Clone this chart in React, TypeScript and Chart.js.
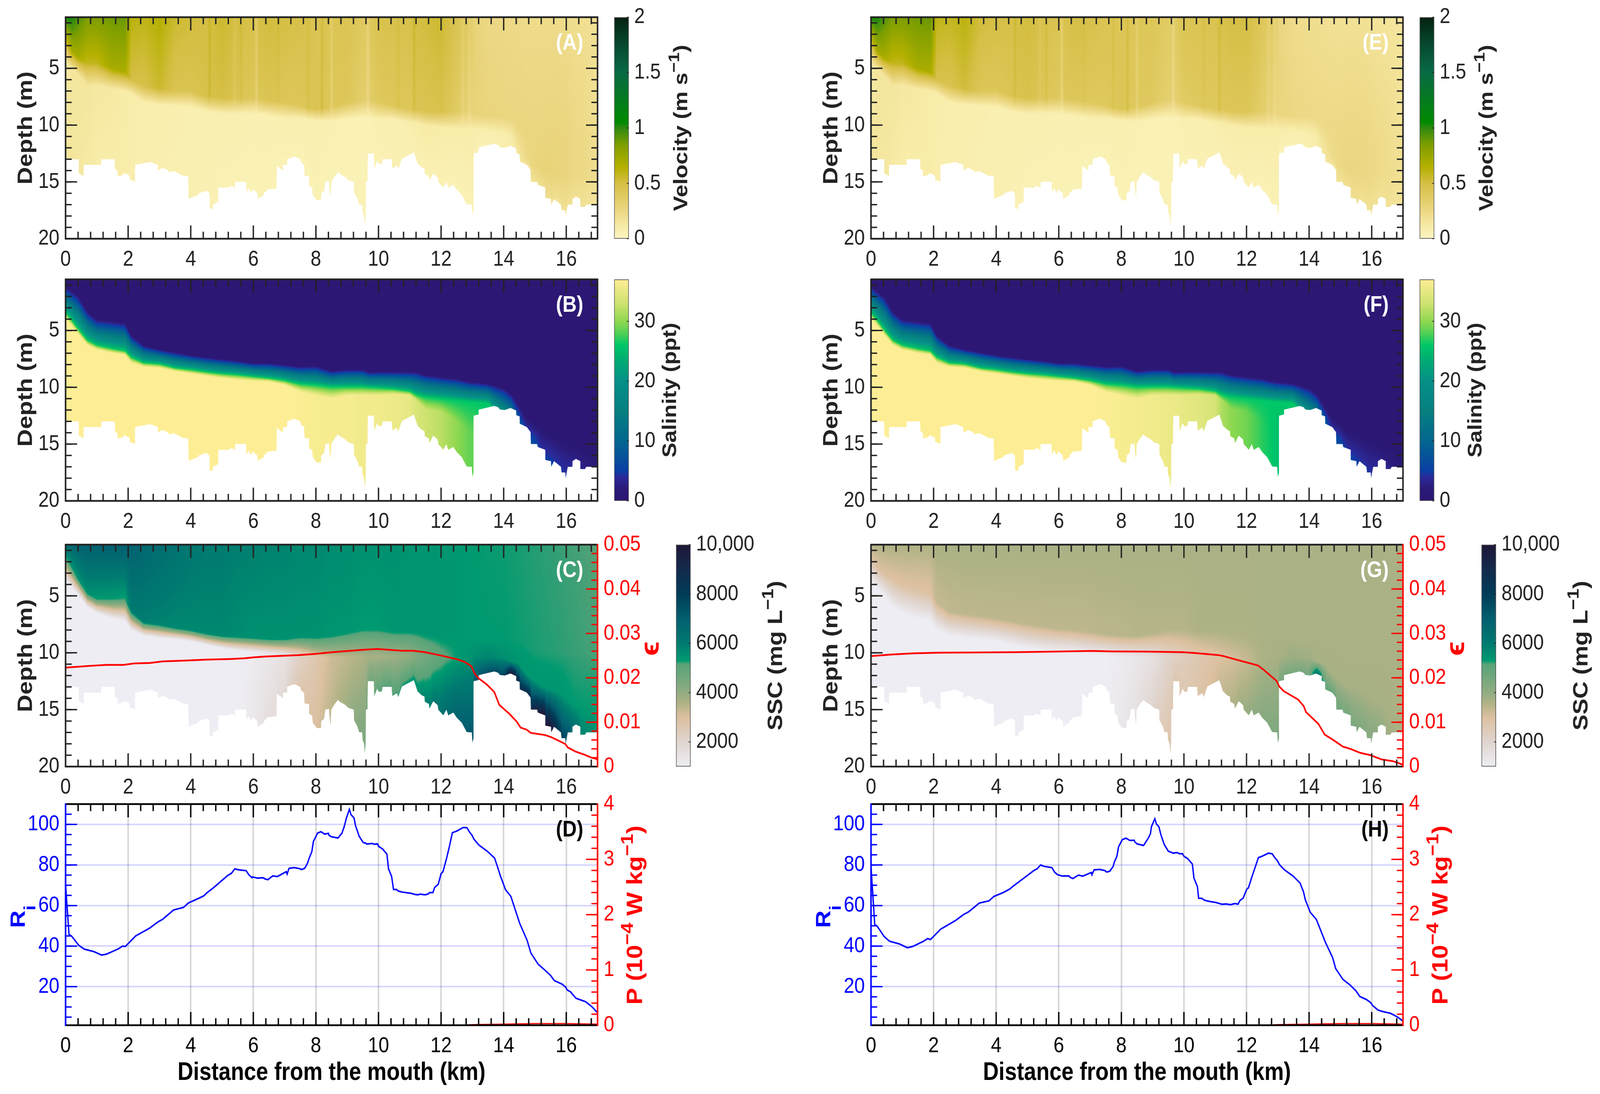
import { useEffect, useRef } from 'react';
import Chart from 'chart.js/auto';

const FONT = '"Liberation Sans", Arial, sans-serif';

// tick labels
const distanceTicks = [0, 2, 4, 6, 8, 10, 12, 14, 16];
const depthTicks = [5, 10, 15, 20];
const epsilonTicks = [0, 0.01, 0.02, 0.03, 0.04, 0.05];
const richardsonTicks = [20, 40, 60, 80, 100];
const productionTicks = [0, 1, 2, 3, 4];
const velocityBarTicks = [0, 0.5, 1, 1.5, 2];
const salinityBarTicks = [0, 10, 20, 30];
const sscBarTicks = [2000, 4000, 6000, 8000, 10000];

// river bed
const bedKm = [
  0, 0.42, 0.42, 0.58, 0.58, 0.96, 1.14, 1.14, 1.57, 1.57, 1.66, 1.66, 1.82, 1.88, 2.05, 2.05, 2.22, 2.22, 2.7, 2.95,
  2.95, 3.1, 3.29, 3.29, 3.46, 3.76, 3.92, 3.93, 4.25, 4.25, 4.5, 4.6, 4.6, 4.7, 4.71, 4.88, 4.88, 5.21, 5.3, 5.41,
  5.41, 5.42, 5.77, 5.78, 5.85, 5.94, 5.98, 6.13, 6.14, 6.34, 6.34, 6.46, 6.74, 6.75, 6.95, 6.95, 7.08, 7.08, 7.31, 7.5,
  7.52, 7.62, 7.64, 7.78, 7.78, 7.88, 7.9, 8.02, 8.16, 8.17, 8.26, 8.3, 8.42, 8.43, 8.47, 8.49, 8.6, 8.71, 8.76, 8.92,
  9.04, 9.21, 9.22, 9.32, 9.38, 9.48, 9.49, 9.54, 9.56, 9.59, 9.6, 9.65, 9.66, 9.85, 9.86, 9.96, 10.01, 10.11, 10.13, 10.42,
  10.44, 10.59, 10.63, 10.75, 11.03, 11.13, 11.25, 11.39, 11.47, 11.48, 11.61, 11.63, 11.75, 11.89, 11.91, 12.04, 12.07, 12.17, 12.23, 12.39,
  12.5, 12.66, 12.82, 12.98, 13.0, 13.04, 13.04, 13.19, 13.2, 13.7, 13.82, 13.88, 14.03, 14.22, 14.4, 14.4, 14.51, 14.51, 14.74, 14.86,
  14.87, 15.07, 15.09, 15.33, 15.33, 15.51, 15.52, 15.61, 15.83, 15.85, 15.97, 15.98, 16.05, 16.2, 16.2, 16.31, 16.45, 16.45, 16.6, 16.64,
  16.97, 17,
];
const bedDepth = [
  13, 13, 14.24, 14.5, 13.5, 13.5, 13.5, 13, 13, 13.83, 14.03, 14.5, 14.4, 14.2, 14.46, 14.8, 15, 13.5, 13.24, 13.5,
  14, 13.76, 14, 14.16, 14.03, 14.46, 14.5, 16.48, 16.12, 16, 15.78, 16, 17.3, 17.38, 17, 16.75, 15.5, 15.5, 15.34, 15.5,
  15.93, 15, 15, 15.93, 15.55, 16, 15.63, 16, 16.48, 16.15, 16, 15.67, 15.58, 13.58, 14, 13.5, 13.5, 13, 12.76, 13,
  13.28, 13.5, 14.46, 14.5, 15.36, 15.52, 16.15, 16.6, 16.63, 16, 15.8, 15, 14.93, 15.48, 16.38, 15, 14.5, 14.13, 14.3, 14.54,
  14.84, 15, 15.93, 16.45, 16.97, 17, 17.65, 18, 18.85, 18, 15, 14.95, 12.5, 12.5, 13.85, 13.15, 13.43, 13.4, 13, 13,
  13.8, 13.55, 13.9, 12.95, 12.55, 12.4, 13.4, 13.75, 13.85, 14.3, 14.5, 14.9, 14.25, 14.6, 15, 15.4, 15.5, 15, 15.5, 15.25,
  15.7, 16.15, 16.97, 17, 17.9, 17.5, 12.5, 12.4, 11.97, 11.64, 11.75, 11.95, 12, 11.82, 12.05, 12.45, 12.56, 13.2, 13.5, 13.95,
  15, 15, 15.25, 15.5, 16.4, 16.5, 17, 16.5, 17, 17.5, 17.5, 18, 17, 17, 16.5, 16.3, 16.5, 17.2, 17.2, 17,
  17, 17,
];

// along-section stations the field profiles were read at
const stationKm = [
  0, 0.2, 0.4, 0.7, 1, 1.5, 1.9,
  2.1, 2.5, 3, 3.5, 4, 4.5, 5, 5.5, 6, 6.5, 7,
  7.5, 8, 8.5, 9, 9.5, 9.7, 10, 10.5, 11, 11.2, 11.5, 12, 12.5, 12.95, 13.05,
  13.5, 14,
  14.25, 14.5, 14.75, 15, 15.25, 15.5, 15.75, 16, 16.25, 16.5, 16.75, 17,
];

// narrow vertical streaks seen in the velocity sections
const velStreakKm = [4.6, 5.4, 5.6, 6.1, 6.8, 7.75, 8.2, 8.5, 9.66, 10.63, 11.14, 12.7, 12.9];
const velStreakShift = [0.06, -0.05, 0.05, -0.12, 0.03, 0.05, 0.08, -0.1, -0.1, 0.04, 0.07, -0.06, -0.06];

// velocity profile: surface, top of shear layer, bottom of shear layer, bed
const shearTop = [
  3, 3.5, 4, 4.5, 4.5, 5, 5.3,
  6, 6.5, 6.8, 7, 7, 7.4, 7.6, 7.6, 7.6, 7.8, 8,
  8.3, 8.6, 8.4, 8, 7.8, 7.8, 8, 8.3, 8.6, 8.6, 8.8, 8.8, 8.8, 8.8, 9,
  9.2, 9.2,
  9.5, 10, 10.5, 11, 11, 11.5, 11.5, 11.5, 11.5, 11.5, 11.5, 11.5,
];
const shearBottom = [
  4.5, 5, 5.5, 6.5, 6.5, 6.8, 7,
  7.2, 8, 8.2, 8.3, 8.4, 8.8, 9, 9, 9, 9.2, 9.4,
  9.4, 9.6, 9.7, 9.5, 9.4, 9.4, 9.5, 9.5, 9.8, 9.8, 10, 10.2, 10.3, 10.3, 10.3,
  10.5, 10.8,
  11, 12, 13, 13.5, 14, 14, 14.5, 14.5, 14.5, 14.5, 14.5, 14.5,
];
const velSurfA = [
  1.05, 1.05, 0.95, 0.85, 0.85, 0.88, 0.9,
  0.62, 0.6, 0.65, 0.55, 0.52, 0.5, 0.55, 0.5, 0.48, 0.52, 0.5,
  0.48, 0.45, 0.45, 0.45, 0.4, 0.4, 0.47, 0.47, 0.48, 0.5, 0.52, 0.55, 0.45, 0.38, 0.3,
  0.25, 0.24,
  0.24, 0.23, 0.22, 0.22, 0.22, 0.22, 0.22, 0.22, 0.2, 0.2, 0.18, 0.18,
];
const velMidA = [
  0.45, 0.7, 0.7, 0.6, 0.6, 0.7, 0.68,
  0.5, 0.48, 0.55, 0.45, 0.45, 0.48, 0.5, 0.45, 0.42, 0.45, 0.42,
  0.42, 0.45, 0.42, 0.42, 0.35, 0.35, 0.4, 0.42, 0.42, 0.45, 0.45, 0.47, 0.38, 0.3, 0.3,
  0.28, 0.27,
  0.26, 0.27, 0.27, 0.27, 0.27, 0.28, 0.28, 0.27, 0.25, 0.24, 0.22, 0.2,
];
const velLowA = [
  0.12, 0.15, 0.15, 0.15, 0.13, 0.12, 0.1,
  0.1, 0.08, 0.08, 0.08, 0.07, 0.07, 0.07, 0.07, 0.06, 0.06, 0.07,
  0.07, 0.07, 0.06, 0.05, 0.05, 0.05, 0.07, 0.07, 0.08, 0.1, 0.12, 0.1, 0.1, 0.1, 0.1,
  0.08, 0.08,
  0.1, 0.18, 0.25, 0.28, 0.3, 0.3, 0.28, 0.27, 0.25, 0.24, 0.22, 0.2,
];
const velBed = [
  0.15, 0.15, 0.14, 0.12, 0.1, 0.1, 0.1,
  0.08, 0.08, 0.08, 0.07, 0.07, 0.06, 0.05, 0.05, 0.05, 0.05, 0.05,
  0.05, 0.05, 0.05, 0.05, 0.05, 0.05, 0.05, 0.06, 0.06, 0.06, 0.06, 0.06, 0.05, 0.05, 0.05,
  0.05, 0.08,
  0.1, 0.15, 0.15, 0.18, 0.2, 0.2, 0.18, 0.18, 0.18, 0.18, 0.16, 0.16,
];
const velSurfE = [
  1.05, 1.05, 0.95, 0.85, 0.85, 0.88, 0.9,
  0.6, 0.58, 0.62, 0.52, 0.5, 0.48, 0.52, 0.48, 0.45, 0.5, 0.48,
  0.45, 0.43, 0.43, 0.42, 0.38, 0.38, 0.45, 0.45, 0.46, 0.47, 0.5, 0.5, 0.42, 0.35, 0.27,
  0.22, 0.2,
  0.2, 0.19, 0.18, 0.18, 0.18, 0.18, 0.18, 0.17, 0.16, 0.16, 0.15, 0.15,
];
const velMidE = [
  0.45, 0.7, 0.7, 0.6, 0.6, 0.7, 0.68,
  0.48, 0.46, 0.52, 0.43, 0.42, 0.45, 0.47, 0.43, 0.4, 0.42, 0.4,
  0.4, 0.43, 0.4, 0.4, 0.33, 0.33, 0.38, 0.4, 0.4, 0.42, 0.42, 0.43, 0.35, 0.28, 0.27,
  0.25, 0.24,
  0.23, 0.24, 0.24, 0.24, 0.25, 0.25, 0.25, 0.24, 0.22, 0.21, 0.19, 0.18,
];
const velLowE = [
  0.12, 0.15, 0.15, 0.15, 0.13, 0.12, 0.1,
  0.1, 0.08, 0.08, 0.08, 0.07, 0.07, 0.07, 0.07, 0.06, 0.06, 0.07,
  0.07, 0.07, 0.06, 0.05, 0.05, 0.05, 0.07, 0.07, 0.08, 0.09, 0.1, 0.1, 0.1, 0.1, 0.1,
  0.08, 0.08,
  0.1, 0.16, 0.22, 0.25, 0.26, 0.26, 0.25, 0.24, 0.22, 0.21, 0.2, 0.18,
];

// salinity profile: fresh layer down to haloTop, then through haloGreen to the salt layer
const haloTop = [
  1.1, 1.5, 1.9, 3.3, 4, 4.15, 4.3,
  5.4, 6.3, 6.65, 6.9, 7.15, 7.35, 7.5, 7.65, 7.85, 7.85, 8,
  8.15, 8.1, 8.55, 8.4, 8.4, 8.65, 8.6, 8.6, 8.6, 8.6, 8.85, 9.05, 9.2, 9.5, 9.5,
  9.65, 10,
  10.55, 11.55, 12.55, 13.1, 13.55, 13.85, 14.15, 14.45, 14.75, 15.05, 15.4, 15.8,
];
const haloGreen = [
  3.43, 4.1, 4.86, 5.86, 6.3, 6.6, 6.8,
  7.35, 7.85, 7.95, 8.3, 8.45, 8.65, 8.8, 8.9, 9.05, 9.2, 9.4,
  9.7, 9.8, 9.95, 9.95, 9.95, 10, 10.05, 10.15, 10.35, 10.65, 10.85, 11, 11.15, 11.3, 11.3,
  11.4, 13,
  13.5, 16.5, 21.3, 21.7, 29, 30.4, 34, 38, 35, 40, 45, 50,
];
const haloYellow = [
  3.93, 4.6, 5.3, 6.3, 6.7, 7, 7.15,
  7.85, 8.2, 8.3, 8.6, 8.8, 9, 9.2, 9.35, 9.45, 9.5, 9.8,
  10.4, 10.7, 11, 10.7, 10.7, 10.7, 10.7, 10.6, 10.7, 11.1, 11.9, 12.15, 13, 14, 14,
  14.5, 14,
  14.5, 17.5, 22.3, 22.7, 30, 31.4, 35, 39, 36, 41, 46, 51,
];
const salBottomB = [
  37, 37, 37, 37, 37, 37, 37,
  37, 37, 37, 37, 37, 37, 37, 37, 37, 37, 37,
  36.8, 36.5, 36.5, 36.3, 36, 36, 36, 35.5, 35, 34, 33, 32, 30, 28.5, 28.5,
  26, 26,
  26, 26, 26, 26, 26, 26, 26, 26, 26, 26, 26, 26,
];
const salBottomF = [
  37, 37, 37, 37, 37, 37, 37,
  37, 37, 37, 37, 37, 37, 37, 37, 37, 37, 37,
  36.8, 36.5, 36.2, 36, 35.5, 35.5, 35, 34.5, 33.5, 31.5, 30, 29, 27, 25.5, 25.5,
  26, 26,
  26, 26, 26, 26, 26, 26, 26, 26, 26, 26, 26, 26,
];

// suspended sediment profile: surface, top and bottom of the lutocline, bed
const lutoTop = [
  1.5, 2.5, 3.5, 4.8, 5.3, 5.3, 5.3,
  6.3, 7.3, 7.5, 7.8, 8, 8.3, 8.5, 8.6, 8.7, 8.8, 8.8,
  8.6, 8.6, 8.5, 8.2, 8, 8, 8, 8.1, 8.1, 8.1, 8.3, 8.5, 8.6, 8.8, 8.8,
  8.8, 8.9,
  9, 9, 9.5, 10, 10, 10, 10, 10, 10, 10, 10, 10,
];
const lutoTopG = [
  1.5, 2.5, 3, 3.5, 4, 4.5, 4.8,
  5.6, 6.4, 6.6, 6.8, 7, 7.2, 7.5, 7.7, 7.9, 8, 8.2,
  8.4, 8.5, 8.5, 8.3, 8, 8, 8, 8.1, 8.1, 8.1, 8.3, 8.5, 8.6, 8.8, 8.8,
  8.8, 8.9,
  9, 9, 9.5, 10, 10, 10, 10, 10, 10, 10, 10, 10,
];
const lutoBottom = [
  3.7, 4.3, 4.9, 6, 6.5, 7, 7.2,
  8, 8.5, 8.7, 8.8, 9, 9.3, 9.6, 9.8, 9.9, 10, 10.1,
  10.2, 10.4, 10.4, 10.4, 10.3, 10.3, 10.3, 10.3, 10.3, 10.3, 10.4, 10.5, 10.5, 10.5, 10.5,
  10.5, 10.5,
  10.8, 11, 12, 12.5, 13, 13.2, 13.5, 14, 14.5, 15, 15, 15,
];
const sscSurfC = [
  6600, 6800, 6900, 7000, 7000, 7000, 7000,
  6900, 6700, 6500, 6300, 6100, 6000, 6000, 5900, 5900, 5800, 5800,
  5700, 5700, 5600, 5600, 5500, 5500, 5500, 5500, 5400, 5400, 5400, 5400, 5350, 5300, 5300,
  5290, 5280,
  5270, 5260, 5250, 5240, 5230, 5220, 5210, 5200, 5190, 5180, 5170, 5150,
];
const sscMidC = [
  5300, 5400, 5500, 5500, 5300, 5300, 5200,
  6000, 5900, 5800, 5700, 5700, 5700, 5700, 5600, 5500, 5500, 5500,
  5500, 5500, 5400, 5400, 5300, 5300, 5300, 5400, 5400, 5400, 5400, 5400, 5350, 5320, 5300,
  5300, 5300,
  5290, 5280, 5270, 5260, 5250, 5240, 5230, 5220, 5210, 5200, 5190, 5180,
];
const sscLowC = [
  1000, 1000, 1000, 1000, 1000, 1000, 1000,
  1000, 1000, 1000, 1000, 1000, 1000, 1000, 1000, 1100, 1300, 1500,
  2200, 2700, 3200, 3400, 3600, 3700, 3700, 3800, 4000, 4300, 4600, 5000, 5300, 5500, 5600,
  5800, 5600,
  5500, 5400, 5400, 5400, 5400, 5400, 5400, 5350, 5300, 5300, 5300, 5300,
];
const sscBedC = [
  1000, 1000, 1000, 1000, 1000, 1000, 1000,
  1000, 1000, 1000, 1000, 1000, 1000, 1000, 1000, 1200, 1600, 1800,
  2700, 3000, 3400, 3800, 4400, 4500, 5000, 5200, 5400, 5500, 5800, 6300, 6800, 7200, 7200,
  7500, 7800,
  10000, 8800, 8800, 9200, 10000, 10000, 8200, 7600, 6300, 5800, 5600, 5400,
];
const sscSurfG = [
  3500, 3550, 3600, 3600, 3600, 3600, 3600,
  3650, 3650, 3650, 3650, 3650, 3650, 3650, 3650, 3650, 3650, 3650,
  3650, 3650, 3650, 3650, 3650, 3650, 3650, 3650, 3650, 3650, 3650, 3650, 3650, 3650, 3650,
  3650, 3650,
  3650, 3650, 3650, 3650, 3650, 3650, 3650, 3650, 3650, 3650, 3650, 3650,
];
const sscMidG = [
  3000, 3000, 2950, 2950, 2950, 2900, 2900,
  3300, 3350, 3400, 3400, 3400, 3400, 3400, 3400, 3400, 3400, 3400,
  3450, 3450, 3500, 3500, 3500, 3500, 3500, 3600, 3600, 3600, 3600, 3600, 3650, 3650, 3650,
  3650, 3650,
  3650, 3650, 3650, 3650, 3650, 3650, 3650, 3650, 3650, 3650, 3650, 3650,
];
const sscLowG = [
  1000, 1000, 1000, 1000, 1000, 1000, 1000,
  1000, 1000, 1000, 1000, 1000, 1000, 1000, 1000, 1000, 1000, 1000,
  1000, 1100, 1300, 1500, 2100, 2200, 2400, 2700, 2900, 3000, 3100, 3300, 3600, 3700, 3700,
  3900, 3800,
  3700, 3700, 3700, 3700, 3700, 3700, 3700, 3700, 3700, 3700, 3650, 3650,
];
const sscBedG = [
  1000, 1000, 1000, 1000, 1000, 1000, 1000,
  1000, 1000, 1000, 1000, 1000, 1000, 1000, 1000, 1000, 1000, 1000,
  1000, 1200, 1500, 2000, 2700, 2700, 2600, 2800, 3100, 3300, 3500, 3900, 4200, 4400, 4500,
  4500, 4600,
  6500, 5000, 4800, 4600, 4500, 4400, 4300, 4200, 4000, 3800, 3700, 3700,
];

// red epsilon curves
const epsilonKmC = [
  0, 0.8, 1.3, 1.85, 2.2, 2.7, 3.1, 3.8, 4.5, 5.25, 5.73, 6, 6.4, 7, 7.45, 7.95, 8.43, 8.76, 9.56, 9.96,
  10.27, 10.75, 11.1, 11.47, 11.95, 12.5, 12.75, 12.97, 13.06, 13.18, 13.46, 13.7, 13.86, 14.18, 14.42, 14.54, 14.74, 14.86, 15.33, 15.53,
  15.85, 15.97, 16.05, 16.29, 16.61, 16.77, 16.97, 17,
];
const epsilonC = [
  0.0223, 0.0227, 0.0229, 0.0229, 0.02325, 0.02336, 0.0237, 0.02387, 0.0241, 0.02424, 0.0244, 0.0246, 0.0248, 0.02497, 0.0251, 0.02537, 0.0257, 0.0259, 0.02635, 0.0265,
  0.02635, 0.0261, 0.0261, 0.0258, 0.0251, 0.0242, 0.0236, 0.0226, 0.0211, 0.02, 0.0185, 0.0168, 0.0139, 0.0119, 0.0101, 0.0088, 0.0083, 0.0076, 0.0071, 0.0066,
  0.0055, 0.0051, 0.0043, 0.0034, 0.0026, 0.0021, 0.0017, 0.0015,
];
const epsilonKmG = [
  0, 0.64, 1.33, 2.16, 3.2, 4.58, 5.62, 7.08, 7.7, 8.86, 9.97, 10.33, 10.8, 11.12, 11.26, 11.72, 12.04, 12.36, 12.55, 12.73,
  12.96, 13.05, 13.19, 13.65, 13.83, 13.9, 14.3, 14.5, 14.75, 15.08, 15.35, 15.63, 15.95, 16.32, 16.69, 17,
];
const epsilonG = [
  0.0249, 0.02525, 0.0255, 0.02566, 0.0257, 0.02577, 0.02588, 0.02606, 0.02595, 0.0259, 0.02577, 0.0256, 0.0253, 0.0251, 0.0249, 0.024, 0.0234, 0.0228, 0.0218, 0.0207,
  0.0193, 0.018, 0.017, 0.0151, 0.0136, 0.0123, 0.0096, 0.0072, 0.0061, 0.0045, 0.0039, 0.0031, 0.0026, 0.0016, 0.0012, 0.0004,
];

// Richardson number curves
const richardsonKmD = [
  0, 0.11, 0.19, 0.42, 0.6, 0.9, 1.15, 1.3, 1.68, 1.82, 1.91, 2.24, 2.69, 2.96, 3.1, 3.45, 3.77, 3.93, 4.25, 4.42,
  4.52, 4.73, 5.18, 5.3, 5.41, 5.53, 5.77, 5.85, 5.96, 5.98, 6.13, 6.32, 6.36, 6.46, 6.62, 6.77, 7.05, 7.08, 7.14, 7.31,
  7.5, 7.53, 7.64, 7.73, 7.78, 7.87, 7.92, 8, 8.05, 8.16, 8.28, 8.4, 8.42, 8.5, 8.71, 8.76, 8.83, 8.91, 8.97, 9.07,
  9.12, 9.22, 9.26, 9.38, 9.51, 9.58, 9.63, 9.8, 9.87, 9.97, 10, 10.13, 10.27, 10.32, 10.42, 10.48, 10.57, 10.64, 10.77, 11.05,
  11.15, 11.25, 11.34, 11.48, 11.59, 11.63, 11.74, 11.79, 11.91, 12, 12.06, 12.17, 12.26, 12.36, 12.5, 12.71, 12.83, 12.9, 12.99, 13.05,
  13.21, 13.49, 13.71, 13.82, 13.89, 14.06, 14.23, 14.51, 14.75, 14.87, 15.1, 15.3, 15.49, 15.62, 15.86, 15.98, 16.03, 16.14, 16.31, 16.62,
  16.83, 17,
];
const richardsonD = [
  70.5, 45.7, 45, 40.4, 38.5, 37.3, 35.6, 36, 38.6, 40, 39.8, 45, 48.9, 52, 53.2, 57.8, 59.1, 61.3, 63.5, 64.8,
  66.3, 68.8, 74.8, 75.9, 78.1, 77.6, 77.2, 75.3, 73.7, 74.1, 73.5, 73.7, 73.2, 72.7, 74.6, 74.3, 76.7, 75.5, 78.3, 78.7,
  78.1, 77.7, 78.3, 80.8, 83.1, 86.6, 91.6, 94, 95.7, 96.4, 95.2, 95.6, 94.6, 93.9, 93.3, 94.4, 95.6, 99.2, 102.9, 107.4,
  104.8, 103.1, 99.7, 94.2, 91.1, 90.8, 90.3, 90.6, 90.2, 90.4, 89.2, 87.9, 85.3, 78.1, 74.3, 67.9, 67.9, 67.1, 66.6, 66,
  65.5, 65.3, 65.6, 65.3, 65.7, 66.4, 66.4, 68.8, 70.5, 75.7, 76.7, 82.9, 88.7, 95.9, 96.7, 98.5, 98.3, 96.4, 94.6, 92.7,
  89.8, 86.6, 83.4, 78.3, 74.8, 67.8, 64.5, 51.3, 42.8, 36.6, 31.1, 28.4, 25.7, 23, 21.3, 19.8, 18.4, 17.4, 14.3, 12.6,
  10, 7.1,
];
const richardsonKmH = [
  0, 0.12, 0.19, 0.42, 0.59, 0.9, 1.16, 1.33, 1.68, 1.81, 1.9, 2.23, 2.71, 2.96, 3.12, 3.46, 3.77, 3.93, 4.24, 4.43,
  4.52, 4.72, 5.21, 5.31, 5.42, 5.53, 5.78, 5.87, 5.96, 6.12, 6.33, 6.36, 6.45, 6.63, 6.77, 7.04, 7.06, 7.13, 7.32, 7.48,
  7.53, 7.63, 7.74, 7.77, 7.86, 7.91, 8.03, 8.15, 8.27, 8.41, 8.43, 8.5, 8.71, 8.86, 8.93, 8.96, 9.07, 9.12, 9.2, 9.26,
  9.37, 9.5, 9.55, 9.66, 9.77, 9.87, 9.95, 10, 10.12, 10.27, 10.32, 10.43, 10.47, 10.58, 10.65, 10.76, 11.02, 11.22, 11.34, 11.49,
  11.62, 11.73, 11.79, 11.89, 12.01, 12.06, 12.18, 12.38, 12.5, 12.7, 12.82, 12.89, 13, 13.05, 13.21, 13.49, 13.71, 13.82, 13.88, 14.04,
  14.23, 14.52, 14.75, 14.85, 15.08, 15.31, 15.5, 15.62, 15.84, 15.97, 16.03, 16.2, 16.34, 16.6, 16.82, 16.96, 17,
];
const richardsonH = [
  79.3, 50.5, 50, 44.7, 42.4, 41.1, 39.2, 39.8, 42.4, 43.7, 43.2, 48.4, 52.7, 55.6, 56.9, 61.2, 62.3, 64.5, 66.5, 68.1,
  69.3, 71.6, 77.3, 78.1, 80, 79.3, 78.7, 76.4, 75.2, 74.5, 74.6, 73.9, 73.3, 75, 74.5, 76.3, 75.2, 77.6, 77.8, 77.2,
  76.5, 76.9, 79.3, 81.2, 84.4, 88.9, 92.5, 93.2, 92.1, 92.2, 91.4, 90.4, 89.6, 93.2, 95.4, 98.8, 102.8, 100.2, 98.8, 95.1,
  90.1, 86.8, 86.5, 85.8, 86.1, 85.5, 85.6, 84.3, 83.1, 80.4, 73.5, 69.4, 63.6, 63.5, 62.7, 62.2, 61.5, 60.6, 60.8, 60.4,
  61, 60.7, 62.5, 63.6, 68.1, 68.7, 74.5, 83.6, 84.3, 85.8, 85.5, 83.9, 81.8, 80.2, 77.6, 74.5, 71.1, 66.8, 62.8, 56.6,
  53.2, 41.9, 34.4, 28.9, 23.6, 20.8, 17.9, 15.2, 13.6, 12.1, 10.7, 8.5, 7.8, 6.9, 5.1, 3.5, 3,
];

// production curve, nearly flat on the bottom axis
const productionKm = [0, 12.7, 13, 14, 15, 16, 17];
const production = [0, 0, 0.01, 0.02, 0.03, 0.03, 0.02];

// colour maps
const velocityStops = [
  [0, '#fcf6c2'], [0.1, '#f8eca9'], [0.25, '#ecd884'], [0.5, '#d6bf45'], [0.65, '#b4b000'], [0.85, '#7d9e00'],
  [1, '#2f8a10'], [1.05, '#008a00'], [1.5, '#096a45'], [1.75, '#064a2f'], [2, '#04200f'],
];
const salinityStops = [
  [0, '#2c1570'], [2, '#2b1a78'], [4, '#2a2a9a'], [5, '#0a3fa5'], [10, '#03668f'], [15, '#058080'], [20, '#069088'],
  [24, '#00b070'], [26, '#00c768'], [28, '#50d055'], [30, '#90d850'], [33, '#cfe270'], [37, '#fdee95'],
];
const sscStops = [
  [1000, '#eeedf3'], [2000, '#e0d5cf'], [3000, '#dcc0a0'], [3600, '#aeb285'], [4000, '#92ac82'], [5000, '#5fa57a'],
  [5150, '#5ba278'], [5300, '#009a70'], [6000, '#007a70'], [7000, '#035f70'], [8000, '#003c58'], [9000, '#142a4c'], [10000, '#1f1738'],
];

const DARK = '#222222';
const FIGURE_WIDTH = 4710;
const FIGURE_HEIGHT = 2800;
const PLOT_LEFT = 193;
const PLOT_RIGHT = 1759;
const COLUMN_OFFSET = [0, 2371];
const ROWS = [
  { top: 44, bottom: 611 },
  { top: 715, bottom: 1282 },
  { top: 1394, bottom: 1962 },
  { top: 2058, bottom: 2624 },
];
const TOP_ROOM = 60;
const CANVAS_WIDTH = 1960;
const TICK_FONT = { family: FONT, size: 56 };

const toPoints = (xs: number[], ys: number[]) => xs.map((x, i) => ({ x, y: ys[i] }));

const steps = (from: number, to: number, step: number) => {
  const out: number[] = [];
  const n = Math.floor((to - from) / step + 1e-6);
  for (let i = 0; i <= n; i++) out.push(+(from + i * step).toFixed(4));
  return out;
};

const hexRgb = (hex: string) => [1, 3, 5].map((i) => parseInt(hex.slice(i, i + 2), 16));

// colour lookup table for a stop list
function buildLut(stops: any[]) {
  const min = stops[0][0];
  const max = stops[stops.length - 1][0];
  const lut: number[][] = [];
  for (let i = 0; i < 2048; i++) {
    const v = min + ((max - min) * i) / 2047;
    let k = 0;
    while (k < stops.length - 2 && v > stops[k + 1][0]) k++;
    const t = (v - stops[k][0]) / (stops[k + 1][0] - stops[k][0]);
    const a = hexRgb(stops[k][1]);
    const b = hexRgb(stops[k + 1][1]);
    lut.push(a.map((c, j) => c + (b[j] - c) * t));
  }
  return { lut, min, max };
}

function bedAt(km: number) {
  for (let i = 1; i < bedKm.length; i++) {
    if (km <= bedKm[i] && bedKm[i] > bedKm[i - 1]) {
      const t = (km - bedKm[i - 1]) / (bedKm[i] - bedKm[i - 1]);
      return bedDepth[i - 1] + (bedDepth[i] - bedDepth[i - 1]) * t;
    }
  }
  return bedDepth[bedDepth.length - 1];
}

function streakAt(km: number) {
  let shift = 0;
  velStreakKm.forEach((s, i) => {
    const d = Math.abs(km - s) / 0.07;
    if (d < 1) shift += velStreakShift[i] * (1 - d);
  });
  return shift;
}

// shades the section between the profiles, like pcolor with interpolated shading
function fieldPattern(chart: any, panel: any) {
  const { layers, stops, streaks } = panel;
  const area = chart.chartArea;
  const { x, y } = chart.scales;
  const w = Math.ceil(area.right - area.left);
  const h = Math.ceil(area.bottom - area.top);
  const off = document.createElement('canvas');
  off.width = chart.width;
  off.height = chart.height;
  const octx = off.getContext('2d') as CanvasRenderingContext2D;
  const img = octx.createImageData(w, h);
  const { lut, min, max } = buildLut(stops);
  const rows: number[] = [];
  for (let r = 0; r < h; r++) rows.push(y.getValueForPixel(area.top + r + 0.5));
  const n = layers.length;
  const kz = new Array(n);
  const kv = new Array(n);
  for (let c = 0; c < w; c++) {
    const km = x.getValueForPixel(area.left + c + 0.5);
    let i = 0;
    while (i < stationKm.length - 2 && km > stationKm[i + 1]) i++;
    const t = Math.min(1, Math.max(0, (km - stationKm[i]) / (stationKm[i + 1] - stationKm[i])));
    const bed = bedAt(km);
    const shift = streaks ? streakAt(km) : 0;
    for (let j = 0; j < n; j++) {
      const [d, v] = layers[j];
      const z = d === null ? 0.5 : d === 'bed' ? bed : d[i] + (d[i + 1] - d[i]) * t;
      kz[j] = j > 0 ? Math.max(z, kz[j - 1] + 0.01) : z;
      kv[j] = typeof v === 'number' ? v : v[i] + (v[i + 1] - v[i]) * t;
      if (j < 2) kv[j] += shift;
    }
    let k = 0;
    for (let r = 0; r < h; r++) {
      const z = rows[r];
      if (z > bed + 0.3) break;
      while (k < n - 2 && z > kz[k + 1]) k++;
      const f = Math.min(1, Math.max(0, (z - kz[k]) / (kz[k + 1] - kz[k])));
      const v = kv[k] + (kv[k + 1] - kv[k]) * f;
      const idx = Math.max(0, Math.min(2047, Math.round(((v - min) / (max - min)) * 2047)));
      const col = lut[idx];
      const p = (r * w + c) * 4;
      img.data[p] = col[0];
      img.data[p + 1] = col[1];
      img.data[p + 2] = col[2];
      img.data[p + 3] = 255;
    }
  }
  octx.putImageData(img, area.left, area.top);
  return chart.ctx.createPattern(off, 'no-repeat');
}

// inward ticks and the box round the plot, plus rich text labels
function decorations(marks: any[], frame: any, labels: any[]) {
  return {
    id: 'decorations',
    afterDatasetsDraw(chart: any) {
      const { ctx, chartArea: a, scales } = chart;
      ctx.save();
      ctx.lineCap = 'butt';
      for (const m of marks) {
        const scale = scales[m.scale];
        ctx.strokeStyle = m.color;
        const horizontalAxis = m.side === 'top' || m.side === 'bottom';
        ctx.lineWidth = m.width || (horizontalAxis ? 4 : 3.5);
        const draw = (values: number[], len: number) => {
          for (const v of values) {
            const p = scale.getPixelForValue(v);
            ctx.beginPath();
            if (m.side === 'left') { ctx.moveTo(a.left, p); ctx.lineTo(a.left + len, p); }
            if (m.side === 'right') { ctx.moveTo(a.right, p); ctx.lineTo(a.right - len, p); }
            if (m.side === 'top') { ctx.moveTo(p, a.top); ctx.lineTo(p, a.top + len); }
            if (m.side === 'bottom') { ctx.moveTo(p, a.bottom); ctx.lineTo(p, a.bottom - len); }
            ctx.stroke();
          }
        };
        draw(m.minor || [], m.minorLen || 18);
        draw(m.major || [], m.majorLen || 34);
      }
      if (frame) {
        ctx.lineWidth = 4.5;
        const edge = (color: string, x0: number, y0: number, x1: number, y1: number) => {
          ctx.strokeStyle = color;
          ctx.beginPath();
          ctx.moveTo(x0, y0);
          ctx.lineTo(x1, y1);
          ctx.stroke();
        };
        edge(frame.top, a.left, a.top, a.right, a.top);
        edge(frame.bottom, a.left, a.bottom, a.right, a.bottom);
        edge(frame.left, a.left, a.top - 2, a.left, a.bottom + 2);
        edge(frame.right, a.right, a.top - 2, a.right, a.bottom + 2);
      }
      ctx.restore();
    },
    afterDraw(chart: any) {
      const { ctx } = chart;
      for (const l of labels) {
        ctx.save();
        ctx.translate(l.x, l.y);
        if (l.rotate) ctx.rotate(-Math.PI / 2);
        ctx.fillStyle = l.color;
        ctx.textAlign = 'left';
        ctx.textBaseline = 'alphabetic';
        const size = l.size || 62;
        const fontOf = (run: any) => `bold ${run.sup || run.sub ? size * 0.78 : size}px ${FONT}`;
        let total = 0;
        for (const run of l.runs) {
          ctx.font = fontOf(run);
          total += ctx.measureText(run.t).width;
        }
        let pen = l.align === 'right' ? -total : -total / 2;
        for (const run of l.runs) {
          ctx.font = fontOf(run);
          const lift = run.sup ? -size * 0.42 : run.sub ? size * 0.5 : 0;
          ctx.fillText(run.t, pen, lift);
          pen += ctx.measureText(run.t).width;
        }
        ctx.restore();
      }
    },
  };
}

function axisScale(extra: any, ticks: number[], color: string, fit: any, padding: number, format?: any) {
  return {
    type: 'linear',
    afterBuildTicks: (s: any) => { s.ticks = ticks.map((value) => ({ value })); },
    afterFit: fit,
    border: { display: false },
    grid: { display: false, drawTicks: false },
    ticks: {
      autoSkip: false, maxRotation: 0, minRotation: 0, padding, color, font: TICK_FONT,
      callback: format || ((v: number) => String(v)),
    },
    ...extra,
  };
}

const xMarks = (color: string) => {
  const minor = steps(0, 17, 0.4).filter((v) => Math.abs(v / 2 - Math.round(v / 2)) > 0.01);
  return [
    { scale: 'x', side: 'top', major: distanceTicks, minor, color },
    { scale: 'x', side: 'bottom', major: distanceTicks, minor, color },
  ];
};

function panelConfig(panel: any) {
  const row = ROWS[panel.row];
  const offset = COLUMN_OFFSET[panel.col];
  const isLine = panel.kind === 'line';
  const bottomRoom = isLine ? 172 : 92;
  const height = row.bottom - row.top;
  const frame = isLine
    ? { top: '#000000', bottom: '#000000', left: '#0000ff', right: '#ff0000' }
    : { top: DARK, bottom: DARK, left: DARK, right: panel.right ? '#ff0000' : DARK };
  const tickColor = isLine ? '#000000' : DARK;
  const labels: any[] = [];
  const midY = TOP_ROOM + height / 2;
  labels.push({
    runs: [{ t: panel.letter }], x: PLOT_RIGHT - 42, y: TOP_ROOM + 83, size: 58, align: 'right',
    color: isLine ? '#000000' : '#ffffff',
  });
  const marks: any[] = [...xMarks(tickColor)];
  const scales: any = {
    x: axisScale({ min: 0, max: 17 }, distanceTicks, tickColor, (s: any) => { s.height = bottomRoom; }, 20),
  };
  const wideLeft = (s: any) => { s.width = PLOT_LEFT; };
  const wideRight = (s: any) => { s.width = CANVAS_WIDTH - PLOT_RIGHT; };
  let datasets: any[] = [];

  if (isLine) {
    scales.x.grid = { display: true, drawTicks: false, color: 'rgba(0,0,0,0.16)', lineWidth: 4.5 };
    scales.y = axisScale({ min: 1, max: 110, position: 'left' }, richardsonTicks, '#0000ff', wideLeft, 18);
    scales.y.grid = { display: true, drawTicks: false, color: 'rgba(0,0,255,0.16)', lineWidth: 4 };
    scales.yR = axisScale({ min: 0, max: 4, position: 'right' }, productionTicks, '#ff0000', wideRight, 18);
    marks.push(
      { scale: 'y', side: 'left', major: richardsonTicks, minor: steps(5, 110, 5), color: '#0000ff' },
      { scale: 'yR', side: 'right', major: productionTicks, minor: steps(0, 4, 0.2), color: '#ff0000' },
    );
    datasets = [
      { data: toPoints(panel.km, panel.values), yAxisID: 'y', borderColor: '#0000ff', borderWidth: 4, pointRadius: 0, tension: 0 },
      { data: toPoints(productionKm, production), yAxisID: 'yR', borderColor: '#ff0000', borderWidth: 3, pointRadius: 0, tension: 0 },
    ];
    labels.push(
      { runs: [{ t: 'Distance from the mouth (km)' }], x: 976, y: 2764 - row.top + TOP_ROOM, size: 64, color: '#000000' },
      { runs: [{ t: 'R' }, { t: 'i', sub: true }], x: 73, y: midY + 5, rotate: true, color: '#0000ff' },
      {
        runs: [{ t: 'P (10' }, { t: '−4', sup: true }, { t: ' W kg' }, { t: '−1', sup: true }, { t: ')' }],
        x: 1890, y: midY + 1, size: 64, rotate: true, color: '#ff0000',
      },
    );
  } else {
    scales.y = axisScale({ min: 0.5, max: 20, reverse: true, position: 'left' }, depthTicks, DARK, wideLeft, 18);
    marks.push({ scale: 'y', side: 'left', major: depthTicks, minor: steps(1, 20, 1), color: DARK });
    labels.push({ runs: [{ t: 'Depth (m)' }], x: 94, y: midY, rotate: true, color: DARK });
    let pattern: any = null;
    const section = {
      data: toPoints(bedKm, bedDepth),
      yAxisID: 'y',
      borderWidth: 0,
      pointRadius: 0,
      tension: 0,
      fill: 'end',
      backgroundColor: (ctx: any) => {
        const chart = ctx.chart;
        if (!chart.chartArea) return 'rgba(0,0,0,0)';
        if (!pattern) pattern = fieldPattern(chart, panel);
        return pattern;
      },
    };
    if (panel.right) {
      scales.yR = axisScale({ min: 0, max: 0.05, position: 'right' }, epsilonTicks, '#ff0000', wideRight, 18);
      marks.push({ scale: 'yR', side: 'right', major: epsilonTicks, minor: steps(0, 0.05, 0.002), color: '#ff0000' });
      datasets.push({ data: toPoints(panel.km, panel.values), yAxisID: 'yR', borderColor: '#ff0000', borderWidth: 4.5, pointRadius: 0, tension: 0 });
      labels.push({ runs: [{ t: 'ϵ' }], x: 1939, y: 1660 - row.top + TOP_ROOM, size: 78, rotate: true, color: '#ff0000' });
    } else {
      marks.push({ scale: 'y', side: 'right', major: depthTicks, minor: steps(1, 20, 1), color: DARK });
    }
    datasets.push(section);
  }

  const hasRight = !!scales.yR;
  return {
    style: { left: offset, top: row.top - TOP_ROOM, width: CANVAS_WIDTH, height: height + TOP_ROOM + bottomRoom },
    config: {
      type: 'line',
      data: { datasets },
      options: {
        responsive: false,
        animation: false,
        devicePixelRatio: 1,
        layout: { padding: { left: 0, top: TOP_ROOM, bottom: 0, right: hasRight ? 0 : CANVAS_WIDTH - PLOT_RIGHT } },
        plugins: { legend: { display: false }, tooltip: { enabled: false } },
        scales,
      },
      plugins: [decorations(marks, frame, labels)],
    },
  };
}

function colorbarConfig(bar: any) {
  const row = ROWS[bar.row];
  const offset = COLUMN_OFFSET[bar.col];
  const height = row.bottom - row.top;
  const barLeft = bar.left + offset;
  const min = bar.stops[0][0];
  const max = bar.stops[bar.stops.length - 1][0];
  const width = 360;
  const title = { runs: bar.title, x: bar.titleX - bar.left, y: TOP_ROOM + height / 2, size: bar.titleSize, rotate: true, color: DARK };
  return {
    style: { left: barLeft, top: row.top - TOP_ROOM, width, height: height + TOP_ROOM + 60 },
    config: {
      type: 'bar',
      data: {
        labels: [''],
        datasets: [{
          data: [[min, max]],
          categoryPercentage: 1,
          barPercentage: 1,
          borderWidth: 2,
          borderColor: '#555555',
          borderSkipped: false,
          backgroundColor: (ctx: any) => {
            const { chart } = ctx;
            if (!chart.chartArea) return 'rgba(0,0,0,0)';
            const y = chart.scales.y;
            const g = chart.ctx.createLinearGradient(0, y.getPixelForValue(min), 0, y.getPixelForValue(max));
            for (const [v, c] of bar.stops) g.addColorStop((v - min) / (max - min), c);
            return g;
          },
        }],
      },
      options: {
        responsive: false,
        animation: false,
        devicePixelRatio: 1,
        layout: { padding: { left: 0, top: TOP_ROOM, bottom: 60, right: 0 } },
        plugins: { legend: { display: false }, tooltip: { enabled: false } },
        scales: {
          x: { display: false },
          y: axisScale({ min, max, position: 'right' }, bar.ticks, DARK, (s: any) => { s.width = width - 43; }, 16, bar.format),
        },
      },
      plugins: [decorations([{ scale: 'y', side: 'right', major: bar.ticks, majorLen: 6, width: 2, color: DARK }], null, [title])],
    },
  };
}

const velocityTitle = [{ t: 'Velocity (m s' }, { t: '−1', sup: true }, { t: ')' }];
const sscTitle = [{ t: 'SSC (mg L' }, { t: '−1', sup: true }, { t: ')' }];
const sscFormat = (v: number) => (v === 10000 ? '10,000' : String(v));

const layersA = [[null, velSurfA], [shearTop, velMidA], [shearBottom, velLowA], ['bed', velBed]];
const layersE = [[null, velSurfE], [shearTop, velMidE], [shearBottom, velLowE], ['bed', velBed]];
const layersB = [[null, 1], [haloTop, 1], [haloGreen, 26], [haloYellow, salBottomB]];
const layersF = [[null, 1], [haloTop, 1], [haloGreen, 26], [haloYellow, salBottomF]];
const layersC = [[null, sscSurfC], [lutoTop, sscMidC], [lutoBottom, sscLowC], ['bed', sscBedC]];
const layersG = [[null, sscSurfG], [lutoTopG, sscMidG], [lutoBottom, sscLowG], ['bed', sscBedG]];

const panels = [
  { kind: 'section', letter: '(A)', col: 0, row: 0, layers: layersA, stops: velocityStops, streaks: true },
  { kind: 'section', letter: '(B)', col: 0, row: 1, layers: layersB, stops: salinityStops },
  { kind: 'section', letter: '(C)', col: 0, row: 2, layers: layersC, stops: sscStops, right: true, km: epsilonKmC, values: epsilonC },
  { kind: 'line', letter: '(D)', col: 0, row: 3, km: richardsonKmD, values: richardsonD },
  { kind: 'section', letter: '(E)', col: 1, row: 0, layers: layersE, stops: velocityStops, streaks: true },
  { kind: 'section', letter: '(F)', col: 1, row: 1, layers: layersF, stops: salinityStops },
  { kind: 'section', letter: '(G)', col: 1, row: 2, layers: layersG, stops: sscStops, right: true, km: epsilonKmG, values: epsilonG },
  { kind: 'line', letter: '(H)', col: 1, row: 3, km: richardsonKmH, values: richardsonH },
];

const bars = [0, 1].flatMap((col) => [
  { col, row: 0, left: 1808, stops: velocityStops, ticks: velocityBarTicks, title: velocityTitle, titleX: 2023, titleSize: 58 },
  { col, row: 1, left: 1808, stops: salinityStops, ticks: salinityBarTicks, title: [{ t: 'Salinity (ppt)' }], titleX: 1990, titleSize: 57 },
  { col, row: 2, left: 1990, stops: sscStops, ticks: sscBarTicks, title: sscTitle, titleX: 2302, titleSize: 61, format: sscFormat },
]);

function ChartCanvas({ spec }: { spec: any }) {
  const ref = useRef<HTMLCanvasElement | null>(null);
  useEffect(() => {
    if (!ref.current) return;
    const chart = new Chart(ref.current, spec.config);
    return () => chart.destroy();
  }, [spec]);
  return (
    <canvas
      ref={ref}
      width={spec.style.width}
      height={spec.style.height}
      style={{ position: 'absolute', display: 'block', ...spec.style }}
    />
  );
}

const specs = [...panels.map(panelConfig), ...bars.map(colorbarConfig)];

export default function App() {
  // the window can come out smaller than the figure, so fit the whole figure into it
  const fitX = Math.min(1, window.innerWidth / FIGURE_WIDTH);
  const fitY = Math.min(1, window.innerHeight / FIGURE_HEIGHT);
  return (
    <div
      style={{
        position: 'absolute', left: 0, top: 0, width: FIGURE_WIDTH, height: FIGURE_HEIGHT, overflow: 'hidden',
        background: '#ffffff', transform: `scale(${fitX}, ${fitY})`, transformOrigin: '0 0',
      }}
    >
      {specs.map((spec, i) => (
        <ChartCanvas key={i} spec={spec} />
      ))}
    </div>
  );
}
